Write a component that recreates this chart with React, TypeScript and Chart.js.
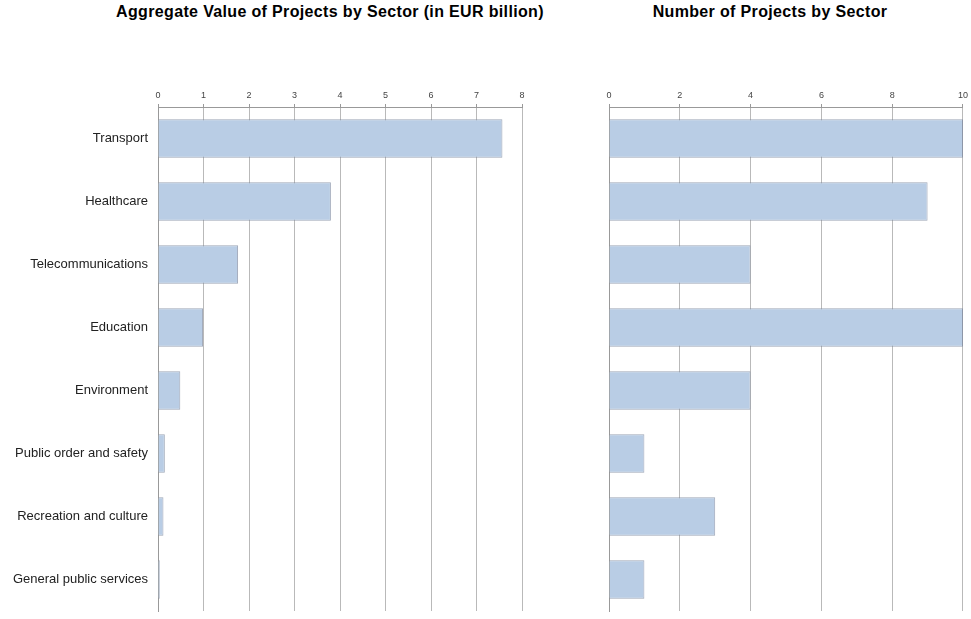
import React, { useEffect, useRef } from 'react';
import { Chart, registerables } from 'chart.js';

Chart.register(...registerables);

const sectors = [
  'Transport',
  'Healthcare',
  'Telecommunications',
  'Education',
  'Environment',
  'Public order and safety',
  'Recreation and culture',
  'General public services',
];
const aggregateValues = [7.57, 3.8, 1.76, 0.99, 0.49, 0.15, 0.12, 0.04];
const projectCounts = [10, 9, 4, 10, 4, 1, 3, 1];
const aggregateMax = 8;
const aggregateStep = 1;
const countMax = 10;
const countStep = 2;
const titleLeft = 'Aggregate Value of Projects by Sector (in EUR billion)';
const titleRight = 'Number of Projects by Sector';

const FONT = "'Liberation Sans', Arial, sans-serif";

type PanelProps = {
  values: number[];
  max: number;
  step: number;
  showLabels: boolean;
  yWidth: number;
  width: number;
  height: number;
  padRight: number;
  left: number;
  top: number;
};

function BarPanel(p: PanelProps) {
  const ref = useRef<HTMLCanvasElement | null>(null);
  useEffect(() => {
    if (!ref.current) return;
    const chart = new Chart(ref.current, {
      type: 'bar',
      data: {
        labels: sectors,
        datasets: [
          {
            data: p.values,
            backgroundColor: '#b9cde5',
            borderColor: 'rgba(125,138,160,0.75)',
            borderWidth: 1,
            categoryPercentage: 1,
            barPercentage: 0.61,
          },
        ],
      },
      options: {
        indexAxis: 'y',
        responsive: false,
        animation: false,
        layout: { padding: { left: 0, right: p.padRight, top: 0, bottom: 8 } },
        plugins: { legend: { display: false }, tooltip: { enabled: false }, title: { display: false } },
        scales: {
          x: {
            position: 'top',
            min: 0,
            max: p.max,
            ticks: {
              stepSize: p.step,
              color: '#444',
              font: { family: FONT, size: 9 },
              padding: 3,
              maxRotation: 0,
            },
            grid: {
              color: '#b9b9b9',
              tickColor: '#999',
              tickLength: 3,
              drawOnChartArea: true,
            },
            border: { display: true, color: '#999' },
            afterFit: (scale: any) => {
              scale.height = 22;
            },
          },
          y: {
            ticks: {
              display: p.showLabels,
              color: '#222',
              font: { family: FONT, size: 13 },
              padding: 10,
            },
            grid: { display: false, drawTicks: false },
            border: { display: true, color: '#999' },
            afterFit: (scale: any) => {
              scale.width = p.yWidth;
              scale.paddingTop = 0;
              scale.paddingBottom = 0;
            },
          },
        },
      },
    });
    return () => chart.destroy();
  }, []);
  return (
    <canvas
      ref={ref}
      width={p.width}
      height={p.height}
      style={{ position: 'absolute', left: p.left, top: p.top, width: p.width, height: p.height, display: 'block' }}
    />
  );
}

export default function App() {
  useEffect(() => {
    document.body.style.margin = '0';
  }, []);
  const titleStyle: React.CSSProperties = {
    position: 'absolute',
    top: 3,
    fontFamily: FONT,
    fontWeight: 'bold',
    fontSize: 16,
    letterSpacing: '0.35px',
    color: '#000',
    whiteSpace: 'nowrap',
    transform: 'translateX(-50%)',
  };
  return (
    <div style={{ position: 'relative', width: 971, height: 619, background: '#fff', overflow: 'hidden' }}>
      <div style={{ ...titleStyle, left: 330 }}>{titleLeft}</div>
      <div style={{ ...titleStyle, left: 770 }}>{titleRight}</div>
      <BarPanel
        values={aggregateValues}
        max={aggregateMax}
        step={aggregateStep}
        showLabels={true}
        yWidth={158}
        width={545}
        height={534}
        padRight={23}
        left={0}
        top={85}
      />
      <BarPanel
        values={projectCounts}
        max={countMax}
        step={countStep}
        showLabels={false}
        yWidth={49}
        width={411}
        height={534}
        padRight={6}
        left={560}
        top={85}
      />
    </div>
  );
}
